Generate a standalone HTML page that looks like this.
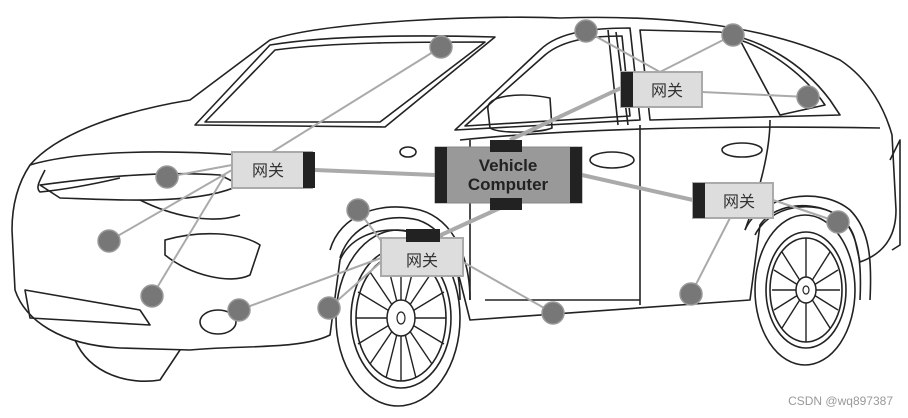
<!DOCTYPE html>
<html><head><meta charset="utf-8"><style>
html,body{margin:0;padding:0;background:#fff;}
svg{display:block;}
</style></head><body>
<svg width="908" height="418" viewBox="0 0 908 418" xmlns="http://www.w3.org/2000/svg">
<g fill="none" stroke="#222" stroke-width="1.6" stroke-linejoin="round">
<!-- main body outline -->
<path d="M30,165 C60,130 130,110 190,100 L270,40 C330,20 500,15 560,18 C650,15 760,22 840,60 C870,80 885,110 892,135 L896,210 C896,240 880,255 860,262 L855,240 C845,200 780,195 760,225 L750,300 L470,320 L460,280 C445,220 360,215 340,260 L330,335 C300,350 240,345 190,350 L120,348 C60,345 25,320 15,290 L12,230 C12,200 20,180 30,165 Z"/>
<!-- hood line -->
<path d="M30,165 C80,150 170,150 240,155"/>
<path d="M45,170 C40,180 35,188 40,192 C60,190 90,185 120,178"/>
<!-- windshield -->
<path d="M195,125 L270,45 C330,35 420,35 495,37 L385,127 Z"/>
<path d="M205,122 L275,50 C335,42 415,42 485,42 L380,122 Z"/>
<!-- front door window -->
<path d="M455,130 L540,50 C560,30 600,28 630,28 L640,120 Z"/>
<path d="M465,126 L545,55 C565,38 598,36 622,36 L630,116 Z"/>
<!-- rear window -->
<path d="M640,30 L720,32 C760,40 800,60 830,100 L840,115 L650,120 Z"/>
<path d="M740,40 C770,50 805,75 825,105 L780,115 Z"/>
<!-- pillar -->
<path d="M608,30 L618,125 M616,32 L628,125"/>
<!-- door lines -->
<path d="M470,140 L470,300 M640,125 L640,305 M485,300 L640,300 M770,120 C770,150 760,190 745,230"/>
<path d="M460,140 C560,130 700,125 880,128"/>
<!-- handles -->
<ellipse cx="612" cy="160" rx="22" ry="8"/>
<ellipse cx="742" cy="150" rx="20" ry="7"/>
<ellipse cx="408" cy="152" rx="8" ry="5"/>
<!-- mirror -->
<path d="M488,110 C485,95 520,92 550,98 L552,128 C540,133 500,134 490,128 Z"/>
<!-- headlight -->
<path d="M40,185 C80,180 150,170 220,175 L240,185 C200,205 120,200 60,198 Z"/>
<path d="M140,200 C170,215 210,225 240,215"/>
<!-- grille / bumper -->
<path d="M25,290 L140,310 L150,325 L30,318 Z"/>
<path d="M165,240 C200,230 240,232 260,245 L250,275 C230,285 190,275 165,255 Z"/>
<ellipse cx="218" cy="322" rx="18" ry="12"/>
<path d="M75,340 C90,375 130,385 160,380 L180,350"/>
<path d="M890,160 L900,140 L900,245 L892,250"/>
<!-- front tire -->
<ellipse cx="398" cy="318" rx="62" ry="88"/>
<ellipse cx="401" cy="318" rx="50" ry="70"/>
<ellipse cx="401" cy="318" rx="45" ry="63"/>
<path d="M330,250 C340,215 380,200 420,210 C455,220 470,260 470,300"/>
<path d="M340,258 C350,225 385,212 418,220 C448,230 460,265 460,300"/>
<!-- rear tire -->
<ellipse cx="805" cy="290" rx="50" ry="75"/>
<ellipse cx="806" cy="290" rx="40" ry="58"/>
<ellipse cx="806" cy="290" rx="36" ry="52"/>
<path d="M745,230 C760,195 820,185 850,210 C870,230 872,260 870,300"/>
<path d="M755,235 C770,205 815,198 842,218 C858,235 862,260 860,300"/>
</g>
<!-- spokes -->
<g stroke="#222" stroke-width="1.4" id="sp1">
<line x1="356" y1="318" x2="446" y2="318"/>
<line x1="401" y1="255" x2="401" y2="381"/>
<line x1="370" y1="272" x2="432" y2="364"/>
<line x1="432" y1="272" x2="370" y2="364"/>
<line x1="358" y1="292" x2="444" y2="344"/>
<line x1="444" y1="292" x2="358" y2="344"/>
<line x1="386" y1="258" x2="416" y2="378"/>
<line x1="416" y1="258" x2="386" y2="378"/>
<line x1="772" y1="290" x2="840" y2="290"/>
<line x1="806" y1="238" x2="806" y2="342"/>
<line x1="782" y1="252" x2="830" y2="328"/>
<line x1="830" y1="252" x2="782" y2="328"/>
<line x1="774" y1="270" x2="838" y2="310"/>
<line x1="838" y1="270" x2="774" y2="310"/>
</g>
<ellipse cx="401" cy="318" rx="14" ry="18" fill="#fff" stroke="#222" stroke-width="1.5"/>
<ellipse cx="401" cy="318" rx="4" ry="6" fill="#fff" stroke="#222" stroke-width="1.2"/>
<ellipse cx="806" cy="290" rx="10" ry="13" fill="#fff" stroke="#222" stroke-width="1.5"/>
<ellipse cx="806" cy="290" rx="3" ry="4" fill="#fff" stroke="#222" stroke-width="1.2"/>
<!-- thin connectors -->
<g stroke="#aaa" stroke-width="2">
<line x1="441" y1="47" x2="272" y2="152"/>
<line x1="167" y1="177" x2="232" y2="165"/>
<line x1="109" y1="241" x2="232" y2="170"/>
<line x1="152" y1="296" x2="225" y2="175"/>
<line x1="586" y1="31" x2="660" y2="72"/>
<line x1="733" y1="35" x2="660" y2="72"/>
<line x1="808" y1="97" x2="702" y2="92"/>
<line x1="838" y1="222" x2="773" y2="200"/>
<line x1="691" y1="294" x2="730" y2="218"/>
<line x1="358" y1="210" x2="388" y2="250"/>
<line x1="239" y1="310" x2="381" y2="258"/>
<line x1="329" y1="308" x2="381" y2="262"/>
<line x1="553" y1="313" x2="463" y2="262"/>
</g>
<!-- thick connectors -->
<g stroke="#aaa" stroke-width="4">
<line x1="315" y1="170" x2="435" y2="175"/>
<line x1="510" y1="140" x2="621" y2="88"/>
<line x1="582" y1="175" x2="693" y2="200"/>
<line x1="500" y1="208" x2="430" y2="240"/>
</g>
<!-- dots -->
<g fill="#777" stroke="#999" stroke-width="1.5">
<circle cx="441" cy="47" r="11"/><circle cx="586" cy="31" r="11"/><circle cx="733" cy="35" r="11"/>
<circle cx="808" cy="97" r="11"/><circle cx="167" cy="177" r="11"/><circle cx="109" cy="241" r="11"/>
<circle cx="152" cy="296" r="11"/><circle cx="239" cy="310" r="11"/><circle cx="358" cy="210" r="11"/>
<circle cx="329" cy="308" r="11"/><circle cx="553" cy="313" r="11"/><circle cx="691" cy="294" r="11"/>
<circle cx="838" cy="222" r="11"/>
</g>
<!-- Vehicle computer -->
<rect x="435" y="147" width="147" height="56" fill="#999" stroke="#888"/>
<rect x="435" y="147" width="12" height="56" fill="#222"/>
<rect x="570" y="147" width="12" height="56" fill="#222"/>
<rect x="490" y="140" width="32" height="12" fill="#222"/>
<rect x="490" y="198" width="32" height="12" fill="#222"/>
<text x="508" y="171" text-anchor="middle" font-family="Liberation Sans, sans-serif" font-weight="bold" font-size="17" fill="#222">Vehicle</text>
<text x="508" y="190" text-anchor="middle" font-family="Liberation Sans, sans-serif" font-weight="bold" font-size="17" fill="#222">Computer</text>
<!-- gateways -->
<g font-family="Liberation Sans, 'Noto Sans CJK SC', sans-serif" font-size="16" fill="#333" text-anchor="middle">
<rect x="232" y="152" width="80" height="36" fill="#ddd" stroke="#aaa" stroke-width="2"/>
<rect x="303" y="152" width="12" height="36" fill="#222"/>
<text x="268" y="176">网关</text>
<rect x="621" y="72" width="81" height="35" fill="#ddd" stroke="#aaa" stroke-width="2"/>
<rect x="621" y="72" width="12" height="35" fill="#222"/>
<text x="667" y="96">网关</text>
<rect x="693" y="183" width="80" height="35" fill="#ddd" stroke="#aaa" stroke-width="2"/>
<rect x="693" y="183" width="12" height="35" fill="#222"/>
<text x="739" y="207">网关</text>
<rect x="381" y="238" width="82" height="38" fill="#ddd" stroke="#aaa" stroke-width="2"/>
<rect x="406" y="229" width="34" height="13" fill="#222"/>
<text x="422" y="266">网关</text>
</g>
<text x="893" y="405" text-anchor="end" font-family="Liberation Sans, sans-serif" font-size="12" fill="#999">CSDN @wq897387</text>
</svg>
</body></html>
